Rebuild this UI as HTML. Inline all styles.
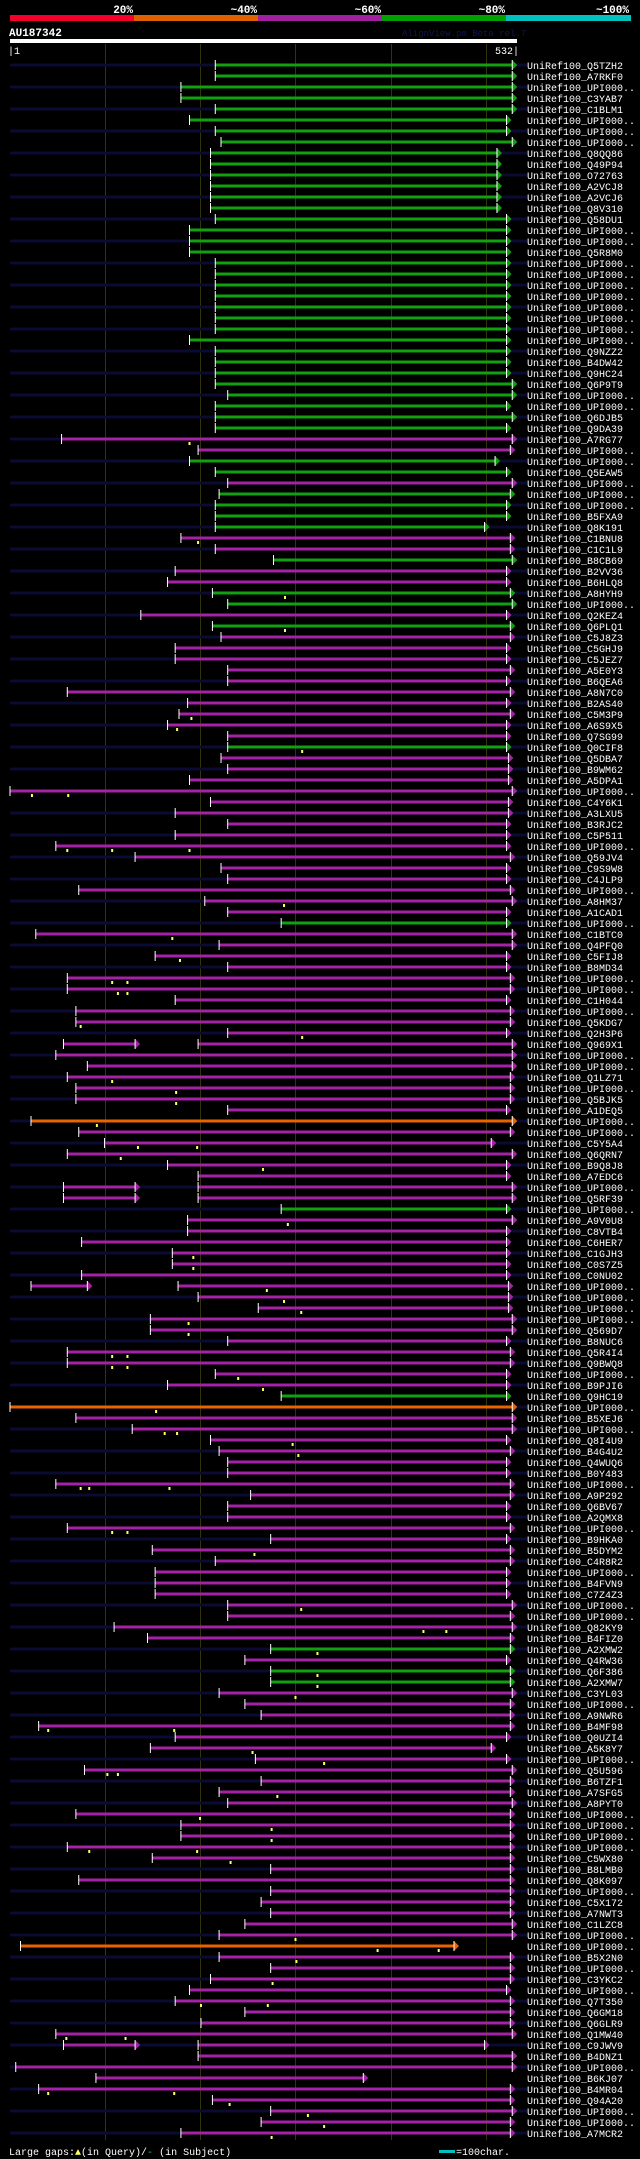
<!DOCTYPE html>
<html><head><meta charset="utf-8"><title>AU187342 alignment view</title>
<style>
html,body{margin:0;padding:0;background:#000;}
svg{display:block;}
text{font-family:"Liberation Mono","DejaVu Sans Mono",monospace;}
</style></head>
<body>
<svg id="chart" width="640" height="2159" viewBox="0 0 640 2159" xmlns="http://www.w3.org/2000/svg">
  <rect x="0" y="0" width="640" height="2159" fill="#000"/>
  <g>
    <rect x="10" y="15" width="124" height="6" fill="#f5002a"/>
    <rect x="134" y="15" width="124" height="6" fill="#e06000"/>
    <rect x="258" y="15" width="124" height="6" fill="#a020a0"/>
    <rect x="382" y="15" width="124" height="6" fill="#00a000"/>
    <rect x="506" y="15" width="125" height="6" fill="#00c0c0"/>
    <g font-size="11" font-weight="bold" fill="#fff" text-anchor="end">
      <text x="133" y="13">20%</text>
      <text x="257" y="13">~40%</text>
      <text x="381" y="13">~60%</text>
      <text x="505" y="13">~80%</text>
      <text x="629" y="13">~100%</text>
    </g>
  </g>
  <text x="9" y="36" font-size="11" font-weight="bold" fill="#fff">AU187342</text>
  <text x="402" y="36" font-size="9" fill="#101850">AlignView.pm Beta rel.7</text>
  <rect x="10" y="39" width="507" height="4" fill="#fff"/>
  <text x="8" y="54" font-size="10" fill="#fff">|1</text>
  <text x="519" y="54" font-size="10" fill="#fff" text-anchor="end">532|</text>
  <g id="grid"></g>
  <g id="rows"></g>
  <g>
    <text x="9" y="2155" font-size="10" fill="#fff">Large gaps:<tspan fill="#ffff60">&#9650;</tspan>(in Query)/<tspan fill="#00c0c0">-</tspan> (in Subject)</text>
    <rect x="439" y="2150" width="16" height="3" fill="#00c0c0"/>
    <text x="456" y="2155" font-size="10" fill="#fff">=100char.</text>
  </g>
</svg>
<script>
const queryLen = 532;
const gridTicks = [100, 200, 300, 400, 500];
const labels = ["Q5TZH2","A7RKF0","U","C3YAB7","C1BLM1","U","U","U","Q8QQ86","Q49P94","O72763","A2VCJ8","A2VCJ6","Q8V310","Q58DU1","U","U","Q5R8M0","U","U","U","U","U","U","U","U","Q9NZZ2","B4DW42","Q9HC24","Q6P9T9","U","U","Q6DJB5","Q9DA39","A7RG77","U","U","Q5EAW5","U","U","U","B5FXA9","Q8K191","C1BNU8","C1C1L9","B8CB69","B2VV36","B6HLQ8","A8HYH9","U","Q2KEZ4","Q6PLQ1","C5J8Z3","C5GHJ9","C5JEZ7","A5E0Y3","B6QEA6","A8N7C0","B2AS40","C5M3P9","A6S9X5","Q7SG99","Q0CIF8","Q5DBA7","B9WM62","A5DPA1","U","C4Y6K1","A3LXU5","B3RJC2","C5P511","U","Q59JV4","C9S9W8","C4JLP9","U","A8HM37","A1CAD1","U","C1BTC0","Q4PFQ0","C5FIJ8","B8MD34","U","U","C1H044","U","Q5KDG7","Q2H3P6","Q969X1","U","U","Q1LZ71","U","Q5BJK5","A1DEQ5","U","U","C5Y5A4","Q6QRN7","B9Q8J8","A7EDC6","U","Q5RF39","U","A9V0U8","C8VTB4","C6HER7","C1GJH3","C0S7Z5","C0NU02","U","U","U","U","Q569D7","B8NUC6","Q5R4I4","Q9BWQ8","U","B9PJI6","Q9HC19","U","B5XEJ6","U","Q8I4U9","B4G4U2","Q4WUQ6","B0Y483","U","A9P292","Q6BV67","A2QMX8","U","B9HKA0","B5DYM2","C4R8R2","U","B4FVN9","C7Z4Z3","U","U","Q82KY9","B4FIZ0","A2XMW2","Q4RW36","Q6F386","A2XMW7","C3YL03","U","A9NWR6","B4MF98","Q0UZI4","A5K8Y7","U","Q5U596","B6TZF1","A7SFG5","A8PYT0","U","U","U","U","C5WX80","B8LMB0","Q8K097","U","C5X172","A7NWT3","C1LZC8","U","U","B5X2N0","U","C3YKC2","U","Q7T350","Q6GM18","Q6GLR9","Q1MW40","C9JWV9","B4DNZ1","U","B6KJ07","B4MR04","Q94A20","U","U","A7MCR2"];
const identityClass = "gggggggggg" + "gggggggggg" + "gggggggggg" + "ggggppggpg" + "gggppgppgg" + "pgpppppppp" + "ppgppppppp" + "ppppppppgp" + "pppppppppp" + "ppppppoppp" + "ppppgppppp" + "pppppppppp" + "pgoppppppp" + "pppppppppp" + "ppppgpggpp" + "pppppppppp" + "pppppppppp" + "popppppppp" + "ppppppppp";
const hitStart = [216,216,180,180,216,189,216,222,211,211,211,211,211,211,216,189,189,189,216,216,216,216,216,216,216,189,216,216,216,216,229,216,216,216,55,198,189,216,229,220,216,216,216,180,216,277,174,166,213,229,138,213,222,174,174,229,229,61,187,178,166,229,229,222,229,189,1,211,174,229,174,49,132,222,229,73,205,229,285,28,220,153,229,61,61,174,70,70,229,198,49,82,61,70,70,229,23,73,100,61,166,198,198,198,285,187,187,76,171,171,76,177,198,261,148,148,229,61,61,216,166,285,1,70,129,211,220,229,229,49,253,229,229,61,274,150,216,153,153,153,229,229,110,145,274,247,274,274,220,247,264,31,174,148,258,79,264,220,229,70,180,180,61,150,274,73,274,264,274,247,220,12,220,274,211,189,174,247,201,49,198,198,7,91,31,213,274,264,180];
const hitEnd = [527,527,527,527,527,521,521,527,511,511,511,511,511,511,521,521,521,521,521,521,521,521,521,521,521,521,521,521,521,527,527,521,527,521,527,525,509,521,527,525,521,521,498,525,525,527,521,521,525,527,521,525,525,521,521,525,521,525,521,525,521,521,521,523,523,523,527,523,523,521,521,521,525,521,521,525,527,521,521,527,527,521,521,525,525,521,525,525,521,527,527,527,525,525,525,521,527,525,505,527,521,521,527,527,521,527,521,521,521,521,521,523,523,523,527,527,521,525,525,521,521,521,527,527,527,521,525,521,521,525,525,521,521,525,521,525,525,521,521,521,527,525,527,525,525,521,525,525,527,525,525,525,521,505,521,527,525,525,527,525,525,525,525,525,525,525,525,525,525,527,527,466,525,525,525,521,525,525,525,527,498,527,527,371,525,525,527,525,525];
const extraRows = [89, 102, 103, 111, 180];
const extraStart = [57, 57, 57, 23, 57];
const extraEnd = [132, 132, 132, 82, 132];
const gapRows = [34,43,48,51,59,60,62,66,66,71,71,71,76,79,81,83,83,84,84,87,88,92,93,94,96,98,98,99,100,105,108,109,111,112,113,114,115,117,117,118,118,119,120,122,124,124,125,126,129,129,129,133,133,135,140,142,142,144,146,147,148,151,151,153,154,155,155,157,159,160,161,162,162,163,170,171,171,172,174,176,176,179,179,184,184,185,186,187,188];
const gapPos = [189,198,289,289,191,176,307,24,62,61,108,189,288,171,179,108,124,114,124,75,307,108,175,175,92,135,197,117,266,292,193,193,270,288,306,188,188,108,124,108,124,240,266,154,163,176,297,303,75,84,168,108,124,257,306,434,458,323,323,323,300,41,173,255,330,103,114,281,200,275,275,84,197,232,300,386,450,301,276,201,271,60,122,41,173,231,313,330,275];

const NS = "http://www.w3.org/2000/svg";
const colorMap = { g: "#10a010", p: "#a422a4", o: "#e86400" };
function xScale(q) { return 10 + (q - 1) * 507 / (queryLen - 1); }
function yScale(i) { return 65 + i * 11; }
function mk(tag, attrs, parent) {
  const el = document.createElementNS(NS, tag);
  for (const k in attrs) el.setAttribute(k, attrs[k]);
  parent.appendChild(el);
  return el;
}
const grid = document.getElementById('grid');
gridTicks.forEach(t => {
  const l = mk('rect', { x: Math.round(xScale(t)), y: 44, width: 1, height: 2096, fill: '#34340c' }, grid);
  
  
});
const rows = document.getElementById('rows');
function drawSeg(g, s, e, y, col) {
  const x1 = xScale(s), x2 = xScale(e);
  const bar = mk('rect', { x: x1, y: y - 1.5, width: Math.max(0, x2 - x1), height: 3, fill: col }, g);
  
  
  const tick = mk('rect', { x: x1 - 0.5, y: y - 5, width: 1, height: 10, fill: '#fff' }, g);
  
  
  const arr = mk('polygon', { points: (x2) + ',' + (y - 5) + ' ' + (x2 + 5) + ',' + y + ' ' + (x2) + ',' + (y + 5), fill: col }, g);
  
  
  const edge = mk('rect', { x: x2 - 0.5, y: y - 5, width: 1, height: 10, fill: '#fff' }, g);
  
  
}
labels.forEach((lab, i) => {
  const y = yScale(i);
  const g = mk('g', {}, rows);
  
  
  if (i % 2 === 0) {
    const bg = mk('rect', { x: 10, y: y - 1.5, width: 517, height: 3, fill: '#0a0a33' }, g);
    
    
  }
  const col = colorMap[identityClass[i]] || colorMap.p;
  drawSeg(g, hitStart[i], hitEnd[i], y, col);
  const t = mk('text', { x: 527, y: y + 4, 'font-size': 10, fill: '#fff' }, g);
  t.textContent = lab === 'U' ? 'UniRef100_UPI000..' : 'UniRef100_' + lab;
  
  
});
extraRows.forEach((r, k) => {
  const g = rows.children[r];
  drawSeg(g, extraStart[k], extraEnd[k], yScale(r), colorMap[identityClass[r]] || colorMap.p);
});
gapRows.forEach((r, k) => {
  const y = yScale(r);
  const m = mk('rect', { x: xScale(gapPos[k]) - 1, y: y + 3, width: 2, height: 3, fill: '#ffff60' }, rows);
  
  
});
</script>
</body></html>
